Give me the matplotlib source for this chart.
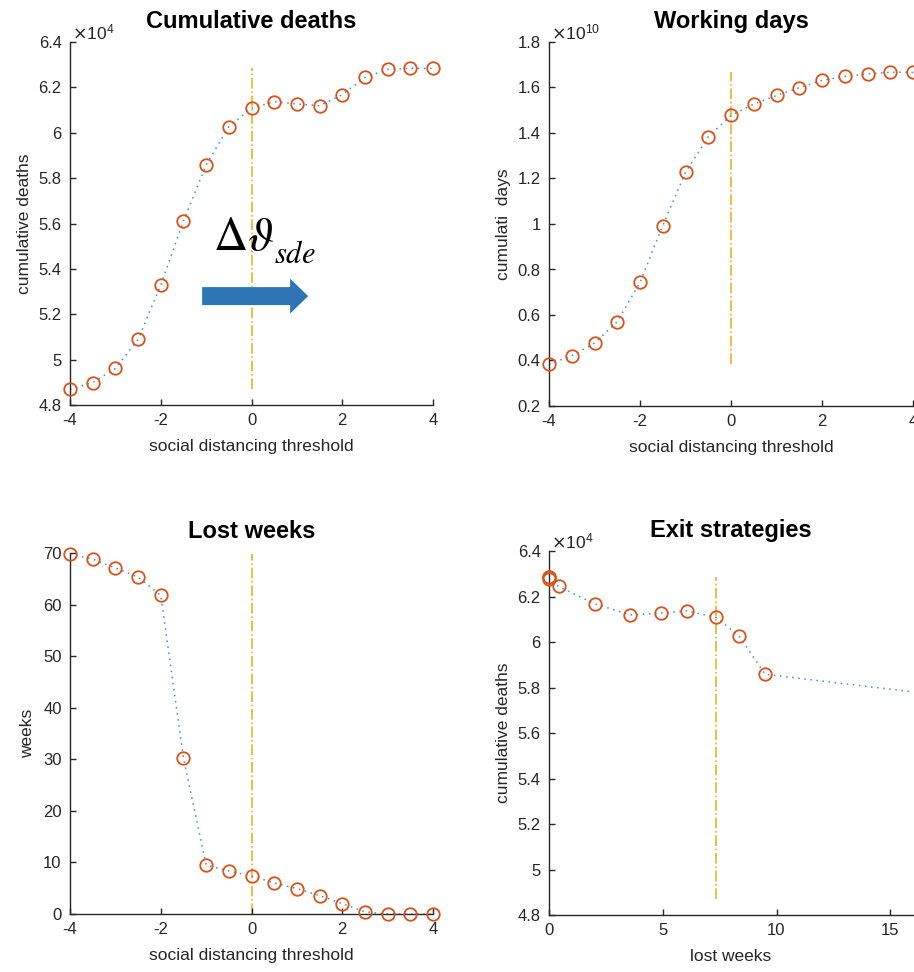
import matplotlib
matplotlib.use("Agg")
import matplotlib.pyplot as plt
from matplotlib.ticker import FuncFormatter, MultipleLocator
from matplotlib.patches import FancyArrow

plt.rcParams['font.family'] = ['Liberation Sans', 'DejaVu Sans']
plt.rcParams['axes.unicode_minus'] = False

# ---------------- data ----------------
threshold = [-4, -3.5, -3, -2.5, -2, -1.5, -1, -0.5, 0, 0.5, 1, 1.5, 2, 2.5, 3, 3.5, 4]
cum_deaths = [48690, 48990, 49610, 50890, 53290, 56110, 58580, 60270, 61080,
              61370, 61270, 61190, 61680, 62440, 62790, 62840, 62840]
working_days = [0.383e10, 0.421e10, 0.476e10, 0.571e10, 0.743e10, 0.993e10, 1.227e10,
                1.383e10, 1.477e10, 1.527e10, 1.565e10, 1.599e10, 1.631e10, 1.649e10,
                1.660e10, 1.667e10, 1.667e10]
lost_weeks = [69.8, 68.8, 67.1, 65.3, 61.8, 30.3, 9.5, 8.35, 7.35, 6.05, 4.92, 3.58,
              2.0, 0.42, 0.0, 0.0, 0.0]
threshold_ref = 0.0

titles = ["Cumulative deaths", "Working days", "Lost weeks", "Exit strategies"]
ylabels = ["cumulative deaths", "cumulati  days", "weeks", "cumulative deaths"]
xlabels = ["social distancing threshold", "social distancing threshold",
           "social distancing threshold", "lost weeks"]

# ---------------- style ----------------
LINE_C = '#3d8fd0'
MARK_C = '#D95319'
VLINE_C = '#EDB120'
TXT_C = '#262626'

W, H = 914, 972
fig = plt.figure(figsize=(W / 100, H / 100), dpi=100)

def px_axes(l, t, r, b):
    return fig.add_axes([l / W, 1 - b / H, (r - l) / W, (b - t) / H])

ax1 = px_axes(70, 42, 433, 405)
ax2 = px_axes(549, 42, 913, 406)
ax3 = px_axes(70, 553, 433, 914)
ax4 = px_axes(549, 551, 913, 915)

def style(ax, title, xlabel, ylabel, ylabelx, tpad):
    for s in ['top', 'right']:
        ax.spines[s].set_visible(False)
    for s in ['left', 'bottom']:
        ax.spines[s].set_color(TXT_C)
        ax.spines[s].set_linewidth(1.0)
    ax.tick_params(direction='in', length=4, width=1, colors=TXT_C, labelsize=12,
                   pad=6, labelcolor=TXT_C)
    ax.set_title(title, fontsize=17, fontweight='bold', pad=tpad)
    ax.set_xlabel(xlabel, fontsize=12.5, color=TXT_C, labelpad=8)
    ax.set_ylabel(ylabel, fontsize=12.5, color=TXT_C)
    ax.yaxis.set_label_coords(ylabelx, 0.5)

def series(ax, x, y):
    ax.plot(x, y, linestyle=(0, (1, 3)), color=LINE_C, linewidth=1.1, zorder=2)
    ax.plot(x, y, linestyle='none', marker='o', markersize=9, markerfacecolor='none',
            markeredgecolor=MARK_C, markeredgewidth=1.3, zorder=3, clip_on=False)

def vline(ax, xv, y):
    ax.plot([xv, xv], [min(y), max(y)], linestyle='-.', color=VLINE_C, linewidth=1.2,
            zorder=1)

def exp_label(ax, p):
    ax.text(0.005, 1.0, r'$\times\mathdefault{10^{%d}}$' % p, transform=ax.transAxes,
            ha='left', va='bottom', fontsize=12.5, color=TXT_C)

gfmt = lambda scale: FuncFormatter(lambda v, pos: f"{v / scale:g}")

# 1: cumulative deaths
series(ax1, threshold, cum_deaths)
vline(ax1, threshold_ref, cum_deaths)
ax1.set_xlim(-4, 4)
ax1.set_ylim(48000, 64000)
ax1.xaxis.set_major_locator(MultipleLocator(2))
ax1.yaxis.set_major_locator(MultipleLocator(2000))
ax1.yaxis.set_major_formatter(gfmt(1e4))
ax1.xaxis.set_major_formatter(gfmt(1))
style(ax1, titles[0], xlabels[0], ylabels[0], -0.105, 10)
exp_label(ax1, 4)
ax1.text(0.395, 0.427, r'$\Delta\vartheta$', transform=ax1.transAxes,
         fontsize=34, math_fontfamily='stix', ha='left', va='baseline', color='black')
ax1.text(0.562, 0.391, r'$sde$', transform=ax1.transAxes,
         fontsize=22, math_fontfamily='stix', ha='left', va='baseline', color='black')
ax1.add_patch(FancyArrow(0.364, 0.300, 0.292, 0.0, width=0.0496, head_width=0.0964,
                         head_length=0.0496, length_includes_head=True,
                         transform=ax1.transAxes, color='#2E75B6', linewidth=0,
                         zorder=4))

# 2: working days
series(ax2, threshold, working_days)
vline(ax2, threshold_ref, working_days)
ax2.set_xlim(-4, 4)
ax2.set_ylim(0.2e10, 1.8e10)
ax2.xaxis.set_major_locator(MultipleLocator(2))
ax2.yaxis.set_major_locator(MultipleLocator(0.2e10))
ax2.yaxis.set_major_formatter(gfmt(1e10))
ax2.xaxis.set_major_formatter(gfmt(1))
style(ax2, titles[1], xlabels[1], ylabels[1], -0.105, 10)
exp_label(ax2, 10)

# 3: lost weeks
series(ax3, threshold, lost_weeks)
vline(ax3, threshold_ref, lost_weeks)
ax3.set_xlim(-4, 4)
ax3.set_ylim(0, 70)
ax3.xaxis.set_major_locator(MultipleLocator(2))
ax3.yaxis.set_major_locator(MultipleLocator(10))
ax3.yaxis.set_major_formatter(gfmt(1))
ax3.xaxis.set_major_formatter(gfmt(1))
style(ax3, titles[2], xlabels[2], ylabels[2], -0.095, 11)

# 4: exit strategies
series(ax4, lost_weeks, cum_deaths)
ref_idx = threshold.index(threshold_ref)
vline(ax4, lost_weeks[ref_idx], cum_deaths)
ax4.set_xlim(0, 16)
ax4.set_ylim(48000, 64000)
ax4.xaxis.set_major_locator(MultipleLocator(5))
ax4.yaxis.set_major_locator(MultipleLocator(2000))
ax4.yaxis.set_major_formatter(gfmt(1e4))
ax4.xaxis.set_major_formatter(gfmt(1))
style(ax4, titles[3], xlabels[3], ylabels[3], -0.105, 10)
exp_label(ax4, 4)

fig.savefig("out.png", dpi=100)
